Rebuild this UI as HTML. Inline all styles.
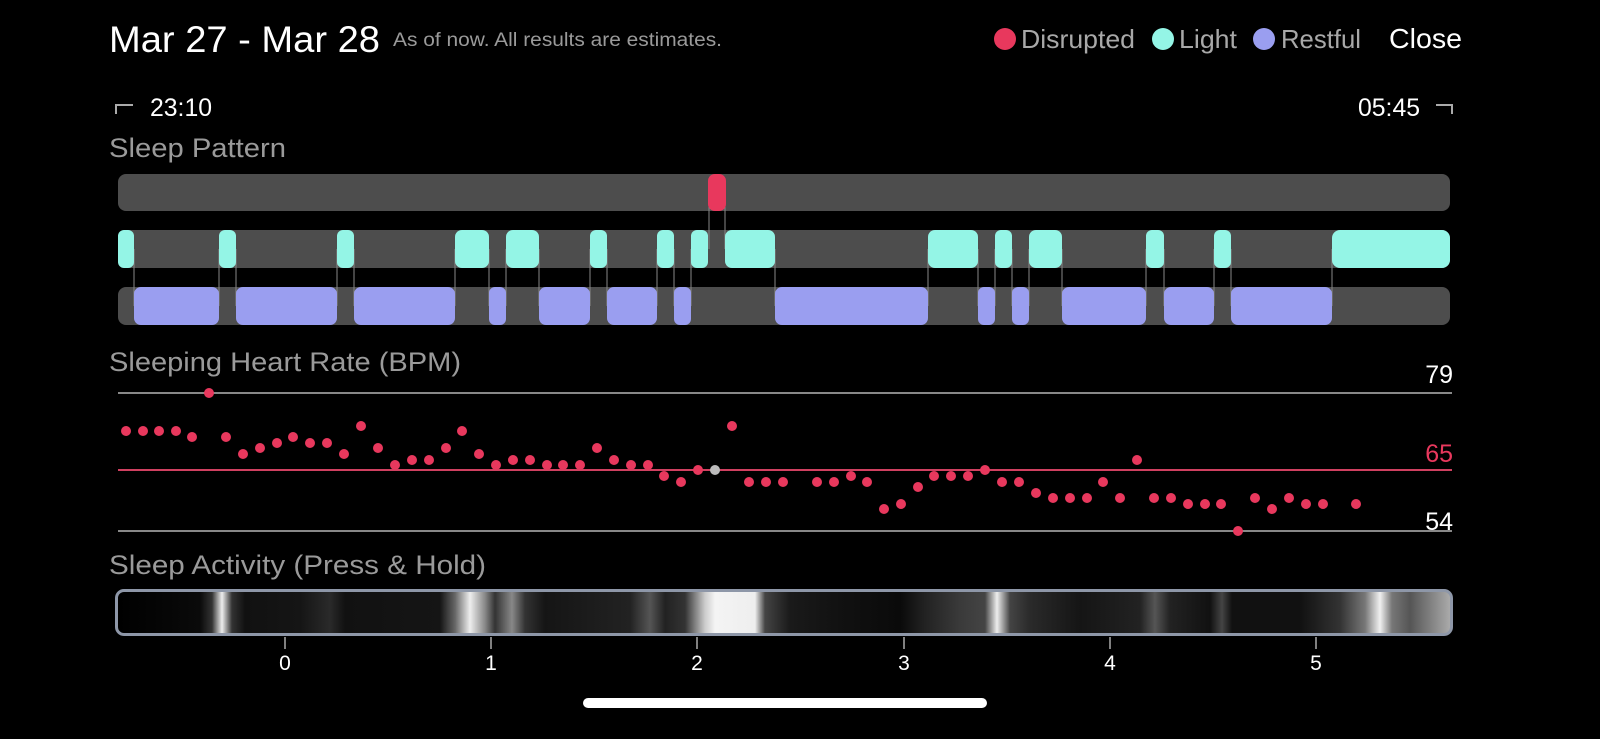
<!DOCTYPE html>
<html><head><meta charset="utf-8"><style>
html,body{margin:0;padding:0;background:#000;width:1600px;height:739px;overflow:hidden;}
svg{display:block;font-family:"Liberation Sans",sans-serif;}
#act{position:absolute;left:115px;top:589px;width:1332px;height:41px;border:3px solid #8e97a8;border-radius:9px;
background:linear-gradient(to right,#000 0px,#0a0a0a 82px,#333 94px,#eee 104px,#333 114px,#111 127px,#151515 182px,#2a2a2a 212px,#111 227px,#151515 322px,#666 337px,#eee 352px,#888 367px,#333 377px,#888 394px,#333 407px,#151515 427px,#222 512px,#555 532px,#222 547px,#333 567px,#ccc 587px,#f4f4f4 597px,#eee 637px,#444 647px,#1a1a1a 672px,#111 722px,#0a0a0a 782px,#222 807px,#3a3a3a 842px,#444 867px,#eee 879px,#444 892px,#2a2a2a 912px,#151515 962px,#222 1022px,#555 1037px,#222 1052px,#111 1092px,#444 1104px,#111 1114px,#111 1182px,#333 1222px,#777 1247px,#f0f0f0 1262px,#777 1274px,#555 1292px,#aaa 1332px);}
</style></head><body>
<div id="act"></div>
<svg width="1600" height="739" viewBox="0 0 1600 739" style="position:absolute;left:0;top:0">
<text x="109" y="52" font-size="37" fill="#fff" textLength="271" lengthAdjust="spacingAndGlyphs">Mar 27 - Mar 28</text>
<text x="393" y="46" font-size="19" fill="#9a9a9a" textLength="329" lengthAdjust="spacingAndGlyphs">As of now. All results are estimates.</text>
<circle cx="1005" cy="39" r="11" fill="#e8385d"/><text x="1021" y="48" font-size="26" fill="#a8a8a8" textLength="114" lengthAdjust="spacingAndGlyphs">Disrupted</text>
<circle cx="1163" cy="39" r="11" fill="#94f5e6"/><text x="1179" y="48" font-size="26" fill="#a8a8a8" textLength="58" lengthAdjust="spacingAndGlyphs">Light</text>
<circle cx="1264" cy="39" r="11" fill="#9a9ef0"/><text x="1281" y="48" font-size="26" fill="#a8a8a8" textLength="80" lengthAdjust="spacingAndGlyphs">Restful</text>
<text x="1389" y="48" font-size="28" fill="#fff" textLength="73" lengthAdjust="spacingAndGlyphs">Close</text>
<path d="M116 114 V105 H133" stroke="#aaa" stroke-width="2" fill="none"/>
<text x="150" y="116" font-size="25" fill="#fff" textLength="62" lengthAdjust="spacingAndGlyphs">23:10</text>
<path d="M1436 105 H1452 V114" stroke="#aaa" stroke-width="2" fill="none"/>
<text x="1358" y="116" font-size="25" fill="#fff" textLength="62" lengthAdjust="spacingAndGlyphs">05:45</text>
<text x="109" y="157" font-size="27" fill="#9a9a9a" textLength="177" lengthAdjust="spacingAndGlyphs">Sleep Pattern</text>
<text x="109" y="371" font-size="27" fill="#9a9a9a" textLength="352" lengthAdjust="spacingAndGlyphs">Sleeping Heart Rate (BPM)</text>
<text x="109" y="574" font-size="27" fill="#9a9a9a" textLength="377" lengthAdjust="spacingAndGlyphs">Sleep Activity (Press &amp; Hold)</text>
<rect x="118" y="174" width="1332" height="37" rx="8" fill="#4d4d4d"/>
<rect x="118" y="230" width="1332" height="38" rx="8" fill="#4d4d4d"/>
<rect x="118" y="287" width="1332" height="38" rx="8" fill="#4d4d4d"/>
<g stroke="#888" stroke-width="1">
<line x1="709" y1="192" x2="709" y2="249"/><line x1="725" y1="192" x2="725" y2="249"/>
<path d="M134 249V306M219 249V306M236 249V306M337 249V306M354 249V306M455 249V306M489 249V306M506 249V306M539 249V306M590 249V306M607 249V306M657 249V306M674 249V306M691 249V306M775 249V306M928 249V306M978 249V306M995 249V306M1012 249V306M1029 249V306M1062 249V306M1146 249V306M1164 249V306M1214 249V306M1231 249V306M1332 249V306"/>
</g>
<rect x="708" y="174" width="18" height="37" rx="7" fill="#e8385d"/>
<g fill="#94f5e6">
<rect x="118" y="230" width="16" height="38" rx="6"/><rect x="219" y="230" width="17" height="38" rx="6"/><rect x="337" y="230" width="17" height="38" rx="6"/><rect x="455" y="230" width="34" height="38" rx="7"/><rect x="506" y="230" width="33" height="38" rx="7"/><rect x="590" y="230" width="17" height="38" rx="6"/><rect x="657" y="230" width="17" height="38" rx="6"/><rect x="691" y="230" width="17" height="38" rx="6"/><rect x="725" y="230" width="50" height="38" rx="7"/><rect x="928" y="230" width="50" height="38" rx="7"/><rect x="995" y="230" width="17" height="38" rx="6"/><rect x="1029" y="230" width="33" height="38" rx="7"/><rect x="1146" y="230" width="18" height="38" rx="6"/><rect x="1214" y="230" width="17" height="38" rx="6"/><rect x="1332" y="230" width="118" height="38" rx="8"/>
</g>
<g fill="#9a9ef0">
<rect x="134" y="287" width="85" height="38" rx="7"/><rect x="236" y="287" width="101" height="38" rx="7"/><rect x="354" y="287" width="101" height="38" rx="7"/><rect x="489" y="287" width="17" height="38" rx="6"/><rect x="539" y="287" width="51" height="38" rx="7"/><rect x="607" y="287" width="50" height="38" rx="7"/><rect x="674" y="287" width="17" height="38" rx="6"/><rect x="775" y="287" width="153" height="38" rx="7"/><rect x="978" y="287" width="17" height="38" rx="6"/><rect x="1012" y="287" width="17" height="38" rx="6"/><rect x="1062" y="287" width="84" height="38" rx="7"/><rect x="1164" y="287" width="50" height="38" rx="7"/><rect x="1231" y="287" width="101" height="38" rx="7"/>
</g>
<line x1="118" y1="393" x2="1452" y2="393" stroke="#888" stroke-width="2"/>
<line x1="118" y1="470" x2="1452" y2="470" stroke="#d04060" stroke-width="2"/>
<line x1="118" y1="531" x2="1452" y2="531" stroke="#888" stroke-width="2"/>
<text x="1453" y="383" font-size="25" fill="#fff" text-anchor="end">79</text>
<text x="1453" y="462" font-size="25" fill="#e8385d" text-anchor="end">65</text>
<text x="1453" y="530" font-size="25" fill="#fff" text-anchor="end">54</text>
<g fill="#e8385d">
<circle cx="126" cy="431" r="5"/><circle cx="143" cy="431" r="5"/><circle cx="159" cy="431" r="5"/><circle cx="176" cy="431" r="5"/><circle cx="192" cy="437" r="5"/><circle cx="209" cy="393" r="5"/><circle cx="226" cy="437" r="5"/><circle cx="243" cy="454" r="5"/><circle cx="260" cy="448" r="5"/><circle cx="277" cy="443" r="5"/><circle cx="293" cy="437" r="5"/><circle cx="310" cy="443" r="5"/><circle cx="327" cy="443" r="5"/><circle cx="344" cy="454" r="5"/><circle cx="361" cy="426" r="5"/><circle cx="378" cy="448" r="5"/><circle cx="395" cy="465" r="5"/><circle cx="412" cy="460" r="5"/><circle cx="429" cy="460" r="5"/><circle cx="446" cy="448" r="5"/><circle cx="462" cy="431" r="5"/><circle cx="479" cy="454" r="5"/><circle cx="496" cy="465" r="5"/><circle cx="513" cy="460" r="5"/><circle cx="530" cy="460" r="5"/><circle cx="547" cy="465" r="5"/><circle cx="563" cy="465" r="5"/><circle cx="580" cy="465" r="5"/><circle cx="597" cy="448" r="5"/><circle cx="614" cy="460" r="5"/><circle cx="631" cy="465" r="5"/><circle cx="648" cy="465" r="5"/><circle cx="664" cy="476" r="5"/><circle cx="681" cy="482" r="5"/><circle cx="698" cy="470" r="5"/><circle cx="732" cy="426" r="5"/><circle cx="749" cy="482" r="5"/><circle cx="766" cy="482" r="5"/><circle cx="783" cy="482" r="5"/><circle cx="817" cy="482" r="5"/><circle cx="834" cy="482" r="5"/><circle cx="851" cy="476" r="5"/><circle cx="867" cy="482" r="5"/><circle cx="884" cy="509" r="5"/><circle cx="901" cy="504" r="5"/><circle cx="918" cy="487" r="5"/><circle cx="934" cy="476" r="5"/><circle cx="951" cy="476" r="5"/><circle cx="968" cy="476" r="5"/><circle cx="985" cy="470" r="5"/><circle cx="1002" cy="482" r="5"/><circle cx="1019" cy="482" r="5"/><circle cx="1036" cy="493" r="5"/><circle cx="1053" cy="498" r="5"/><circle cx="1070" cy="498" r="5"/><circle cx="1087" cy="498" r="5"/><circle cx="1103" cy="482" r="5"/><circle cx="1120" cy="498" r="5"/><circle cx="1137" cy="460" r="5"/><circle cx="1154" cy="498" r="5"/><circle cx="1171" cy="498" r="5"/><circle cx="1188" cy="504" r="5"/><circle cx="1205" cy="504" r="5"/><circle cx="1221" cy="504" r="5"/><circle cx="1238" cy="531" r="5"/><circle cx="1255" cy="498" r="5"/><circle cx="1272" cy="509" r="5"/><circle cx="1289" cy="498" r="5"/><circle cx="1306" cy="504" r="5"/><circle cx="1323" cy="504" r="5"/><circle cx="1356" cy="504" r="5"/>
</g>
<circle cx="715" cy="470" r="5" fill="#bbb"/>
<g stroke="#aaa" stroke-width="1.5">
<path d="M285 637V649M491 637V649M697 637V649M904 637V649M1110 637V649M1316 637V649"/>
</g>
<g font-size="21" fill="#fff" text-anchor="middle">
<text x="285" y="670">0</text><text x="491" y="670">1</text><text x="697" y="670">2</text><text x="904" y="670">3</text><text x="1110" y="670">4</text><text x="1316" y="670">5</text>
</g>
<rect x="583" y="698" width="404" height="10" rx="5" fill="#fff"/>
</svg>
</body></html>
